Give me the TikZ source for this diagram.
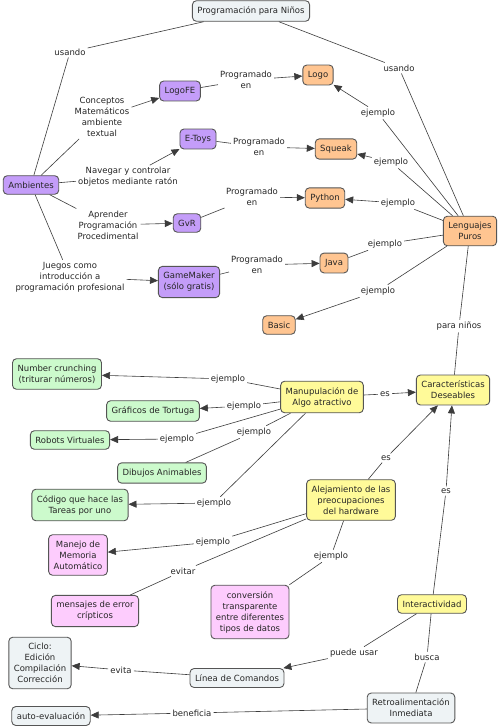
\documentclass[tikz,border=0pt]{standalone}
\usepackage{fontspec}
\setmainfont{DejaVu Sans}
\usetikzlibrary{arrows.meta}

\definecolor{bordergray}{RGB}{85,85,85}
\definecolor{linegray}{RGB}{60,60,60}
\definecolor{fillgray}{HTML}{EEF3F5}
\definecolor{fillpurple}{HTML}{C49DF9}
\definecolor{fillorange}{HTML}{FFC591}
\definecolor{fillgreen}{HTML}{CCFACC}
\definecolor{fillyellow}{HTML}{FFFA99}
\definecolor{fillpink}{HTML}{FDCCFD}

\tikzset{
  concept/.style={draw=bordergray, line width=0.9pt, rounded corners=4pt,
    align=center, inner xsep=5pt, inner ysep=6pt,
    font=\fontsize{8.5}{11}\selectfont, text=black!85},
  cgray/.style={concept, fill=fillgray},
  cpurple/.style={concept, fill=fillpurple},
  corange/.style={concept, fill=fillorange},
  cgreen/.style={concept, fill=fillgreen},
  cyellow/.style={concept, fill=fillyellow},
  cpink/.style={concept, fill=fillpink},
  phrase/.style={align=center, inner sep=2pt,
    font=\fontsize{8.5}{11}\selectfont, text=black!85},
  lnk/.style={draw=linegray, line width=0.6pt},
  arr/.style={lnk, -{Triangle[length=8pt,width=7pt]}}
}

\begin{document}
\begin{tikzpicture}[x=1pt,y=-1pt]
\useasboundingbox[fill=white] (0,0) rectangle (500,727);
% concepts
\node[cgray] (prog) at (251,11) {Programación para Niños};
\node[cpurple] (amb) at (31,185) {Ambientes};
\node[cpurple] (logofe) at (180,91) {LogoFE};
\node[cpurple] (etoys) at (198,139) {E-Toys};
\node[cpurple] (gvr) at (187,223) {GvR};
\node[cpurple] (gmaker) at (189,282) {GameMaker\\(sólo gratis)};
\node[corange] (logo) at (318,75) {Logo};
\node[corange] (squeak) at (336,149) {Squeak};
\node[corange] (python) at (325,198) {Python};
\node[corange] (java) at (334,263) {Java};
\node[corange] (basic) at (279,325) {Basic};
\node[corange] (leng) at (470,231) {Lenguajes\\Puros};
\node[cgreen] (number) at (57,374) {Number crunching\\(triturar números)};
\node[cgreen] (tortuga) at (153,411) {Gráficos de Tortuga};
\node[cgreen] (robots) at (70,440) {Robots Virtuales};
\node[cgreen] (dibujos) at (162,473) {Dibujos Animables};
\node[cgreen] (codigo) at (80,505) {Código que hace las\\Tareas por uno};
\node[cyellow] (manip) at (322,397) {Manupulación de\\Algo atractivo};
\node[cyellow] (carac) at (453,390) {Características\\Deseables};
\node[cyellow] (alej) at (351,500) {Alejamiento de las\\preocupaciones\\del hardware};
\node[cyellow] (inter) at (432,604) {Interactividad};
\node[cpink] (memoria) at (78,555) {Manejo de\\Memoria\\Automático};
\node[cpink] (errores) at (95,611) {mensajes de error\\crípticos};
\node[cpink] (conv) at (250,612) {conversión\\transparente\\entre diferentes\\tipos de datos};
\node[cgray] (ciclo) at (40,663) {Ciclo:\\Edición\\Compilación\\Corrección};
\node[cgray] (linea) at (237,678) {Línea de Comandos};
\node[cgray] (autoev) at (51,716) {auto-evaluación};
\node[cgray] (retro) at (411,708) {Retroalimentación\\Inmediata};
% linking phrases
\node[phrase] (usa1) at (70,52) {usando};
\node[phrase] (usa2) at (399,68) {usando};
\node[phrase] (prg1) at (246,80) {Programado\\en};
\node[phrase] (prg2) at (259,147) {Programado\\en};
\node[phrase] (prg3) at (252,197) {Programado\\en};
\node[phrase] (prg4) at (257,265) {Programado\\en};
\node[phrase] (conc) at (102,117) {Conceptos\\Matemáticos\\ambiente\\textual};
\node[phrase] (naveg) at (128,177) {Navegar y controlar\\objetos mediante ratón};
\node[phrase] (aprend) at (108,225) {Aprender\\Programación\\Procedimental};
\node[phrase] (juegos) at (70,277) {Juegos como\\introducción a\\programación profesional};
\node[phrase] (ejLogo) at (378,113) {ejemplo};
\node[phrase] (ejSqueak) at (391,162) {ejemplo};
\node[phrase] (ejPython) at (398,203) {ejemplo};
\node[phrase] (ejJava) at (385,244) {ejemplo};
\node[phrase] (ejBasic) at (378,291) {ejemplo};
\node[phrase] (ninos) at (459,326) {para niños};
\node[phrase] (ejNum) at (228,379) {ejemplo};
\node[phrase] (ejTort) at (244,406) {ejemplo};
\node[phrase] (ejRob) at (177,439) {ejemplo};
\node[phrase] (ejDib) at (254,432) {ejemplo};
\node[phrase] (ejCod) at (214,503) {ejemplo};
\node[phrase] (es1) at (385,394) {es};
\node[phrase] (es2) at (386,458) {es};
\node[phrase] (es3) at (446,491) {es};
\node[phrase] (ejMem) at (213,542) {ejemplo};
\node[phrase] (evitar) at (183,571) {evitar};
\node[phrase] (ejConv) at (331,556) {ejemplo};
\node[phrase] (puede) at (354,653) {puede usar};
\node[phrase] (busca) at (427,657) {busca};
\node[phrase] (evita) at (121,670) {evita};
\node[phrase] (benef) at (192,713) {beneficia};
% connectors
\draw[lnk] (prog) -- (usa1);
\draw[lnk] (usa1) -- (amb);
\draw[lnk] (prog) -- (usa2);
\draw[lnk] (usa2) -- (leng);
\draw[lnk] (amb) -- (conc);
\draw[arr] (conc) -- (logofe);
\draw[lnk] (amb) -- (naveg);
\draw[arr] (naveg) -- (etoys);
\draw[lnk] (amb) -- (aprend);
\draw[arr] (aprend) -- (gvr);
\draw[lnk] (amb) -- (juegos);
\draw[arr] (juegos) -- (gmaker);
\draw[lnk] (logofe) -- (prg1);
\draw[arr] (prg1) -- (logo);
\draw[lnk] (etoys) -- (prg2);
\draw[arr] (prg2) -- (squeak);
\draw[lnk] (gvr) -- (prg3);
\draw[arr] (prg3) -- (python);
\draw[lnk] (gmaker) -- (prg4);
\draw[arr] (prg4) -- (java);
\draw[lnk] (leng) -- (ejLogo);
\draw[arr] (ejLogo) -- (logo);
\draw[lnk] (leng) -- (ejSqueak);
\draw[arr] (ejSqueak) -- (squeak);
\draw[lnk] (leng) -- (ejPython);
\draw[arr] (ejPython) -- (python);
\draw[lnk] (leng) -- (ejJava);
\draw[lnk] (ejJava) -- (java);
\draw[lnk] (leng) -- (ejBasic);
\draw[arr] (ejBasic) -- (basic);
\draw[lnk] (leng) -- (ninos);
\draw[lnk] (ninos) -- (carac);
\draw[lnk] (manip) -- (ejNum);
\draw[arr] (ejNum) -- (number);
\draw[lnk] (manip) -- (ejTort);
\draw[arr] (ejTort) -- (tortuga);
\draw[lnk] (manip) -- (ejRob);
\draw[arr] (ejRob) -- (robots);
\draw[lnk] (manip) -- (ejDib);
\draw[lnk] (ejDib) -- (dibujos);
\draw[lnk] (manip) -- (ejCod);
\draw[arr] (ejCod) -- (codigo);
\draw[lnk] (manip) -- (es1);
\draw[arr] (es1) -- (carac);
\draw[lnk] (alej) -- (es2);
\draw[arr] (es2) -- (carac);
\draw[lnk] (inter) -- (es3);
\draw[arr] (es3) -- (carac);
\draw[lnk] (alej) -- (ejMem);
\draw[arr] (ejMem) -- (memoria);
\draw[lnk] (alej) -- (evitar);
\draw[lnk] (evitar) -- (errores);
\draw[lnk] (alej) -- (ejConv);
\draw[lnk] (ejConv) -- (conv);
\draw[lnk] (inter) -- (puede);
\draw[arr] (puede) -- (linea);
\draw[lnk] (inter) -- (busca);
\draw[lnk] (busca) -- (retro);
\draw[lnk] (linea) -- (evita);
\draw[arr] (evita) -- (ciclo);
\draw[lnk] (retro) -- (benef);
\draw[arr] (benef) -- (autoev);
\end{tikzpicture}
\end{document}
